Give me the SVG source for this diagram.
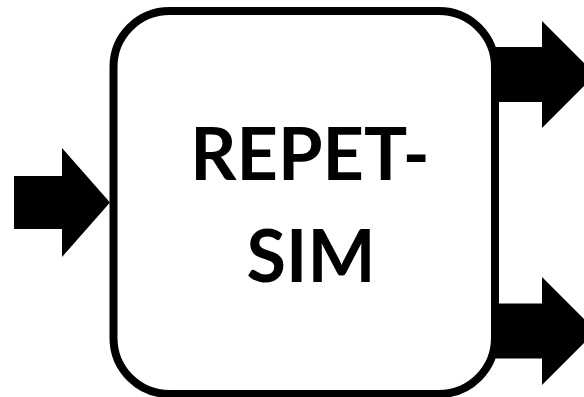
<svg xmlns="http://www.w3.org/2000/svg" width="584" height="397" viewBox="0 0 584 397">
<style>
.box{fill:#fff;stroke:#000;stroke-width:8}
.arrow{fill:#000;stroke:none}
.label{font-family:Lato,"Open Sans","Liberation Sans",sans-serif;font-weight:bold;font-size:72px;fill:#000;text-anchor:middle}
</style>
<rect width="584" height="397" fill="#fff"/>
<g id="node-repetsim">
<rect class="box" x="113.5" y="11" width="381.5" height="383" rx="56" ry="56"/>
<text class="label" x="310" y="180">REPET-</text>
<text class="label" x="311" y="282">SIM</text>
</g>
<g id="connectors">
<polygon class="arrow" points="14,176 62,176 62,148 110,202.5 62,257 62,229 14,229"/>
<polygon class="arrow" points="495,47 542,47 542,21 595.5,74.5 542,128 542,102 495,102"/>
<polygon class="arrow" points="495,303.5 542,303.5 542,277 596,331 542,385 542,358.5 495,358.5"/>
</g>
</svg>
